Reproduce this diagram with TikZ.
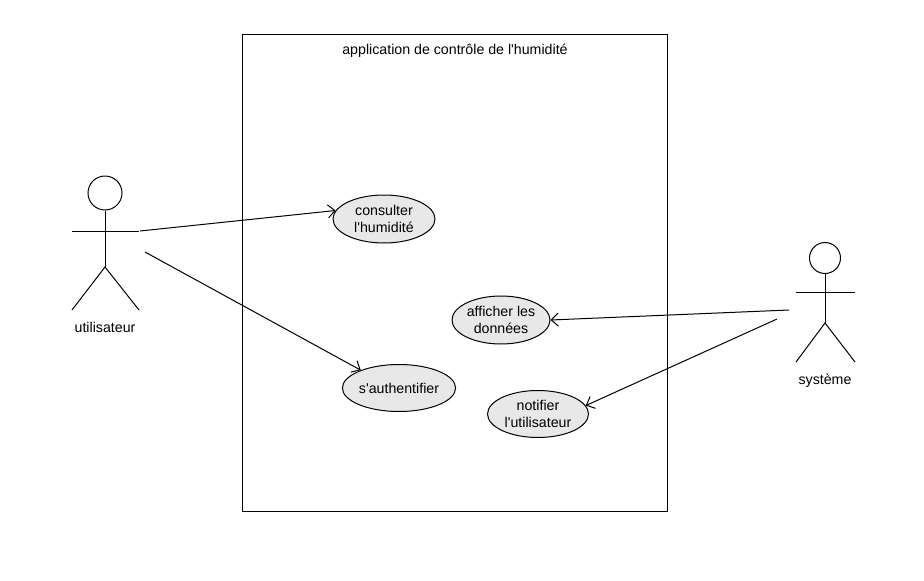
\documentclass[tikz,border=0pt]{standalone}
\usepackage{fontspec}
\setmainfont{Liberation Sans}
\usetikzlibrary{shapes.geometric,arrows.meta}
\newcommand{\apos}{\textquotesingle}
\begin{document}
\begin{tikzpicture}[x=1pt,y=-1pt,
  every node/.style={font=\fontsize{14.2}{17}\selectfont, inner sep=0pt},
  usecase/.style={ellipse, draw, line width=1pt, fill=black!9, align=center},
  actorline/.style={line width=1pt},
  assoc/.style={line width=1pt, -{Straight Barb[length=7pt,width=13pt]}}]
\useasboundingbox (0,0) rectangle (924,581);
\fill[white] (0,0) rectangle (924,581);
% system boundary
\node[draw, line width=1pt, minimum width=425pt, minimum height=477pt, anchor=north west] (sys) at (242,34) {};
\node (title) at (455,51) {application de contrôle de l\apos humidité};
% actor utilisateur
\node[circle, draw, line width=1pt, minimum size=34pt] (h1) at (105,193) {};
\draw[actorline] (72,231) -- (139,231);
\draw[actorline] (h1.south) -- (105,267) coordinate (hip1);
\draw[actorline] (72,310) -- (hip1) -- (139,310);
\node (a1) at (105,327) {utilisateur};
% actor systeme
\node[circle, draw, line width=1pt, minimum size=31pt] (h2) at (825,258) {};
\draw[actorline] (796,292) -- (855,292);
\draw[actorline] (h2.south) -- (825,323) coordinate (hip2);
\draw[actorline] (796,362) -- (hip2) -- (855,362);
\node (a2) at (825,381) {système};
% use cases
\node[usecase, minimum width=102pt, minimum height=48pt] (consult) at (384,219) {consulter\\l\apos humidité};
\node[usecase, minimum width=102pt, minimum height=47pt] (auth) at (399,388) {s\apos authentifier};
\node[usecase, minimum width=98pt, minimum height=48pt] (aff) at (501,320) {afficher les\\données};
\node[usecase, minimum width=101pt, minimum height=47pt] (notif) at (538,414) {notifier\\l\apos utilisateur};
% connector ends
\coordinate (u1) at (140,231);
\coordinate (u2) at (145,252);
\coordinate (s1) at (789,310);
\coordinate (s2) at (777,319);
\draw[assoc] (u1) -- (consult.170);
\draw[assoc] (u2) -- (auth.155);
\draw[assoc] (s1) -- (aff.east);
\draw[assoc] (s2) -- (notif.10);
\end{tikzpicture}
\end{document}
